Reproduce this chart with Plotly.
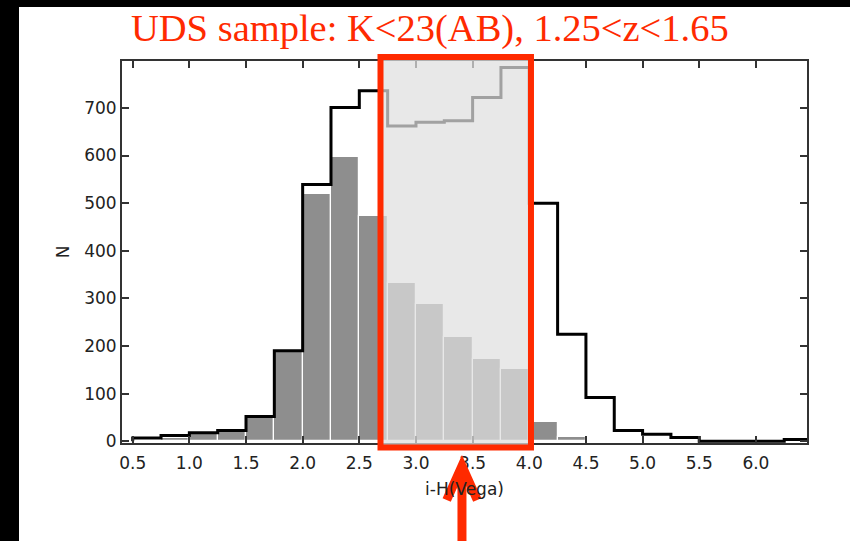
import plotly.graph_objects as go

# ---- data ----
bin_left = [0.50, 0.75, 1.00, 1.25, 1.50, 1.75, 2.00, 2.25, 2.50, 2.75, 3.00, 3.25,
            3.50, 3.75, 4.00, 4.25, 4.50, 4.75, 5.00, 5.25, 5.50, 5.75, 6.00, 6.25]
bin_width = 0.25
all_counts = [7, 12, 18, 23, 52, 190, 539, 701, 736, 662, 670, 673,
              722, 785, 500, 225, 92, 23, 15, 8, 0, 0, 0, 4]
sub_counts = [3, 8, 15, 20, 50, 188, 520, 597, 473, 332, 289, 218,
              173, 151, 40, 10, 0, 0, 0, 0, 0, 0, 0, 0]
x_ticks = [0.5, 1.0, 1.5, 2.0, 2.5, 3.0, 3.5, 4.0, 4.5, 5.0, 5.5, 6.0]
x_tick_text = ["0.5", "1.0", "1.5", "2.0", "2.5", "3.0", "3.5", "4.0", "4.5", "5.0", "5.5", "6.0"]
y_ticks = [0, 100, 200, 300, 400, 500, 600, 700]
sel_lo, sel_hi = 2.687, 4.015
arrow_x = 3.406
title_text = "UDS sample: K<23(AB), 1.25<z<1.65"

RED = "#ff2a00"
W, H = 850, 541
L, R, T, B = 122, 43, 61, 98
pw, ph = W - L - R, H - T - B

def px_x(px):
    return (px - L) / pw

def px_y(py):
    return (H - B - py) / ph

centers = [b + bin_width / 2 for b in bin_left]
edges = bin_left + [bin_left[-1] + bin_width]

fig = go.Figure()
fig.add_trace(go.Bar(
    x=centers, y=sub_counts, width=bin_width,
    marker=dict(color="#8e8e8e", line=dict(color="white", width=1.2)),
    showlegend=False, hoverinfo="skip"))

step_x = [edges[0]] + edges[:-1] + [edges[-1]]
step_y = [0] + all_counts + [all_counts[-1]]
fig.add_trace(go.Scatter(
    x=step_x, y=step_y, mode="lines", line=dict(color="black", width=3, shape="hv"),
    showlegend=False, hoverinfo="skip"))

tick_font = dict(family="DejaVu Sans, Liberation Sans, Arial", size=17, color="#222")
axis_common = dict(showgrid=False, zeroline=False, showline=True, linecolor="#333",
                   linewidth=2, mirror="ticks", ticks="inside", ticklen=7, tickwidth=1.5,
                   tickcolor="#333", tickfont=tick_font)

fig.update_xaxes(range=[0.4056, 6.451], tickvals=x_ticks, ticktext=x_tick_text,
                 ticklabelstandoff=4,
                 title=dict(text="i-H(Vega)", font=tick_font, standoff=11),
                 **axis_common)
fig.update_yaxes(range=[-3.5, 798.4], tickvals=y_ticks,
                 title=dict(text="N", font=tick_font, standoff=10),
                 **axis_common)

shapes = [
    # selection box with translucent overlay
    dict(type="rect", xref="x", yref="paper", x0=sel_lo, x1=sel_hi,
         y0=px_y(447.5), y1=px_y(57), fillcolor="rgba(223,223,223,0.72)",
         line=dict(color=RED, width=6), layer="above"),
    # arrow
    dict(type="path", xref="x", yref="paper",
         path=f"M {arrow_x},{px_y(548)} L {arrow_x},{px_y(470)}",
         line=dict(color=RED, width=9), layer="above"),
    dict(type="path", xref="x", yref="paper",
         path=f"M {arrow_x - 0.135},{px_y(500)} L {arrow_x},{px_y(466)} L {arrow_x + 0.135},{px_y(500)}",
         line=dict(color=RED, width=9), layer="above"),
    # black border strips of the screenshot
    dict(type="rect", xref="paper", yref="paper", x0=px_x(-2), x1=px_x(19),
         y0=px_y(545), y1=px_y(-2), fillcolor="black", line=dict(width=0), layer="above"),
    dict(type="rect", xref="paper", yref="paper", x0=px_x(-2), x1=px_x(852),
         y0=px_y(7), y1=px_y(-2), fillcolor="black", line=dict(width=0), layer="above"),
]

fig.update_layout(
    width=W, height=H, margin=dict(l=L, r=R, t=T, b=B),
    paper_bgcolor="white", plot_bgcolor="white",
    bargap=0, shapes=shapes,
    annotations=[dict(text=title_text, xref="paper", yref="paper",
                      x=px_x(430), y=px_y(29), xanchor="center", yanchor="middle",
                      showarrow=False,
                      font=dict(family="Liberation Serif, Times New Roman", size=38.5, color=RED))],
)

fig.write_html("out.html")
